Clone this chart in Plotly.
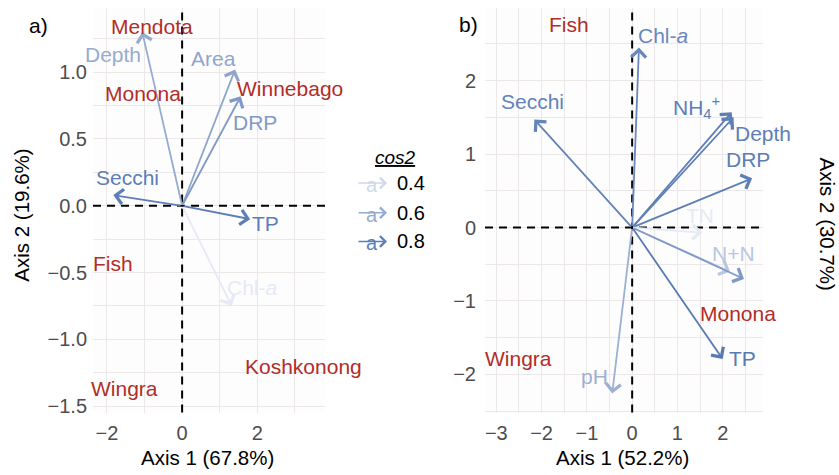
import plotly.graph_objects as go

# ---------------- data ----------------
# Panel a) variable arrows (tip coordinates), cos2, and label positions
a_var_names = ["Depth", "Area", "DRP", "Secchi", "TP", "Chl-<i>a</i>"]
a_var_x = [-1.06, 1.41, 1.56, -1.83, 1.81, 1.32]
a_var_y = [1.30, 1.02, 0.82, 0.08, -0.10, -0.75]
a_var_cos2 = [0.60, 0.63, 0.68, 0.80, 0.80, 0.32]
a_lab_x = [-1.83, 0.83, 1.94, -1.46, 2.23, 1.86]
a_lab_y = [1.13, 1.10, 0.62, 0.21, -0.13, -0.61]
a_site_names = ["Mendota", "Monona", "Winnebago", "Fish", "Koshkonong", "Wingra"]
a_site_x = [-0.80, -1.04, 2.87, -1.83, 3.22, -1.52]
a_site_y = [1.34, 0.84, 0.88, -0.43, -1.20, -1.37]

# Panel b)
b_var_names = ["Chl-<i>a</i>", "Secchi", "NH<sub>4</sub><sup>+</sup>", "Depth", "DRP",
               "TN", "N+N", "Area", "TP", "pH"]
b_var_x = [0.15, -2.16, 2.20, 2.24, 2.65, 1.55, 2.16, 2.47, 2.00, -0.44]
b_var_y = [2.45, 1.47, 1.57, 1.50, 0.67, -0.07, -0.60, -0.70, -1.79, -2.26]
b_var_cos2 = [0.76, 0.78, 0.80, 0.80, 0.80, 0.32, 0.48, 0.68, 0.82, 0.58]
b_lab_x = [0.68, -2.20, 1.43, 2.89, 2.56, 1.50, 2.23, 3.11, 2.43, -0.84]
b_lab_y = [2.62, 1.72, 1.64, 1.28, 0.92, 0.16, -0.36, -0.68, -1.78, -2.03]
b_site_names = ["Fish", "Mendota", "Monona", "Wingra"]
b_site_x = [-1.39, 3.00, 2.34, -2.52]
b_site_y = [2.76, 0.16, -1.17, -1.79]

legend_vals = [0.4, 0.6, 0.8]

axis_titles = {"a_x": "Axis 1 (67.8%)", "a_y": "Axis 2 (19.6%)",
               "b_x": "Axis 1 (52.2%)", "b_y": "Axis 2 (30.7%)"}

# ---------------- styles ----------------
W, H = 839, 475
FONT = "Liberation Sans, Arial, Helvetica, sans-serif"
RED = "#b22d27"
LOW_C, HIGH_C = (236, 239, 247), (79, 115, 176)
LOW_V, HIGH_V = 0.30, 0.85


def cos2_color(v):
    t = min(max((v - LOW_V) / (HIGH_V - LOW_V), 0), 1)
    r, g, b = [round(lo + (hi - lo) * t) for lo, hi in zip(LOW_C, HIGH_C)]
    return f"rgb({r},{g},{b})"


def px(x):
    return x / W


def py(y):
    return 1 - y / H


fig = go.Figure()
# invisible traces to create axes
fig.add_trace(go.Scatter(x=[0], y=[0], mode="markers", marker=dict(opacity=0),
                         showlegend=False, hoverinfo="skip", xaxis="x", yaxis="y"))
fig.add_trace(go.Scatter(x=[0], y=[0], mode="markers", marker=dict(opacity=0),
                         showlegend=False, hoverinfo="skip", xaxis="x2", yaxis="y2"))

annotations = []
shapes = []

LABEL_SIZE = 21


def add_panel(xr, yr, var_x, var_y, cos2, names, lab_x, lab_y, s_names, s_x, s_y):
    for xv, yv, c in zip(var_x, var_y, cos2):
        annotations.append(dict(x=xv, y=yv, ax=0, ay=0, xref=xr, yref=yr,
                                axref=xr, ayref=yr, text="", showarrow=True,
                                arrowhead=4, arrowsize=1.6, arrowwidth=1.8,
                                arrowcolor=cos2_color(c)))
    for n, xv, yv, c in zip(names, lab_x, lab_y, cos2):
        annotations.append(dict(x=xv, y=yv, xref=xr, yref=yr, text=n, showarrow=False,
                                xanchor="center", yanchor="middle",
                                font=dict(family=FONT, size=LABEL_SIZE, color=cos2_color(c))))
    for n, xv, yv in zip(s_names, s_x, s_y):
        annotations.append(dict(x=xv, y=yv, xref=xr, yref=yr, text=n, showarrow=False,
                                xanchor="center", yanchor="middle",
                                font=dict(family=FONT, size=LABEL_SIZE, color=RED)))
    shapes.append(dict(type="line", xref=xr, yref=yr + " domain", x0=0, x1=0, y0=0, y1=1,
                       line=dict(color="black", width=2, dash="8px,6px"), layer="above"))
    shapes.append(dict(type="line", xref=xr + " domain", yref=yr, x0=0, x1=1, y0=0, y1=0,
                       line=dict(color="black", width=2, dash="8px,6px"), layer="above"))


add_panel("x", "y", a_var_x, a_var_y, a_var_cos2, a_var_names, a_lab_x, a_lab_y,
          a_site_names, a_site_x, a_site_y)
add_panel("x2", "y2", b_var_x, b_var_y, b_var_cos2, b_var_names, b_lab_x, b_lab_y,
          b_site_names, b_site_x, b_site_y)


def paper_text(x, y, text, size, angle=0, color="black", xanchor="center"):
    return dict(x=px(x), y=py(y), xref="paper", yref="paper", text=text,
                textangle=angle, showarrow=False, xanchor=xanchor, yanchor="middle",
                font=dict(family=FONT, size=size, color=color))


TITLE_SIZE = 20.5
annotations += [
    paper_text(207, 462, axis_titles["a_x"], TITLE_SIZE),
    paper_text(622, 462, axis_titles["b_x"], TITLE_SIZE),
    paper_text(22, 218, axis_titles["a_y"], TITLE_SIZE, angle=-90),
    paper_text(827, 226, axis_titles["b_y"], TITLE_SIZE, angle=90),
    paper_text(38, 26, "a)", 21),
    paper_text(468, 25, "b)", 21),
]

# manual legend
annotations.append(paper_text(395, 159, "<i><u>cos2</u></i>", 19))
for v, yy in zip(legend_vals, [185, 215, 244]):
    col = cos2_color(v)
    annotations.append(dict(x=px(387), y=py(yy), xref="paper", yref="paper",
                            ax=-30, ay=0, text="", showarrow=True, arrowhead=4,
                            arrowsize=1.3, arrowwidth=1.6, arrowcolor=col))
    annotations.append(paper_text(372, yy + 2, "a", 20, color=col))
    annotations.append(paper_text(395, yy, f"{v:.1f}", 20, xanchor="left"))

GRID = "#ede8e8"
tickfont = dict(family=FONT, size=20, color="#4d4d4d")
common = dict(showgrid=True, gridcolor=GRID, gridwidth=1.1, zeroline=False, showline=False,
              ticks="", tickfont=tickfont)

fig.update_layout(
    width=W, height=H, margin=dict(l=0, r=0, t=0, b=0),
    paper_bgcolor="white", plot_bgcolor="#fefdfd", showlegend=False,
    xaxis=dict(domain=[px(93), px(325)], range=[-2.37, 3.80], tickvals=[-2, 0, 2],
               ticklabelstandoff=6,
               minor=dict(tickvals=[-1, 1, 3], showgrid=True, gridcolor=GRID, gridwidth=0.8),
               anchor="y", **common),
    yaxis=dict(domain=[py(417), py(8)], range=[-1.548, 1.481],
               tickvals=[-1.5, -1.0, -0.5, 0.0, 0.5, 1.0], tickformat=".1f",
               ticklabelstandoff=5,
               minor=dict(tickvals=[-1.25, -0.75, -0.25, 0.25, 0.75, 1.25],
                          showgrid=True, gridcolor=GRID, gridwidth=0.8),
               anchor="x", **common),
    xaxis2=dict(domain=[px(485), px(763)], range=[-3.25, 2.89], tickvals=[-3, -2, -1, 0, 1, 2],
                ticklabelstandoff=6,
                minor=dict(tickvals=[-2.5, -1.5, -0.5, 0.5, 1.5, 2.5], showgrid=True,
                           gridcolor=GRID, gridwidth=0.8),
                anchor="y2", **common),
    yaxis2=dict(domain=[py(417), py(8)], range=[-2.52, 2.99], tickvals=[-2, -1, 0, 1, 2],
                ticklabelstandoff=8,
                minor=dict(tickvals=[-2.5, -1.5, -0.5, 0.5, 1.5, 2.5], showgrid=True,
                           gridcolor=GRID, gridwidth=0.8),
                anchor="x2", **common),
    annotations=annotations, shapes=shapes,
)

fig.write_html("out.html")
